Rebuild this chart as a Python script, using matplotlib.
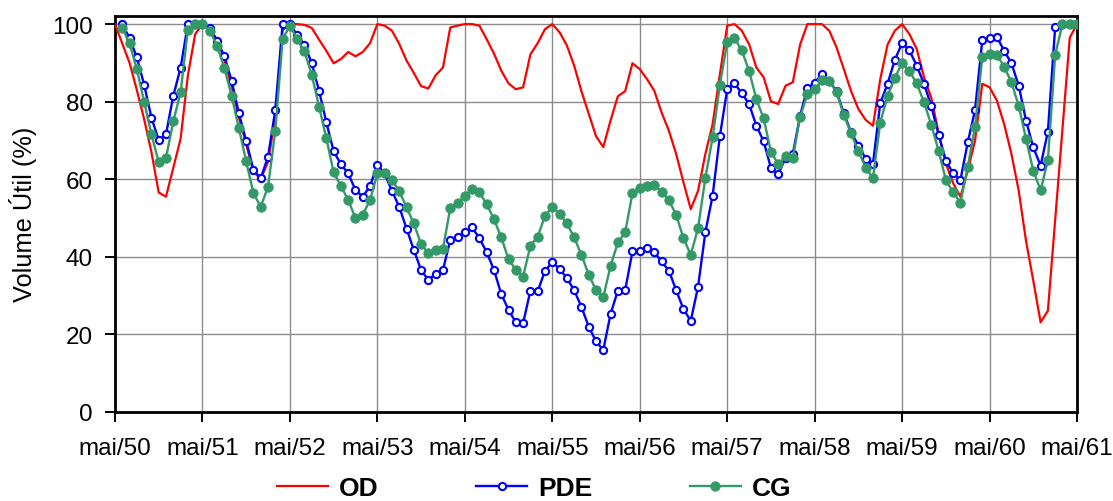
import numpy as np
import matplotlib
matplotlib.use('Agg')
import matplotlib.pyplot as plt
from matplotlib import font_manager

plt.rcParams.update({
    'font.family': ['Liberation Sans', 'DejaVu Sans'],
    'font.size': 17.5,
})

# legend uses a narrow bold face if one is installed
try:
    font_manager.findfont('Liberation Sans Narrow', fallback_to_default=False)
    legend_family = ['Liberation Sans Narrow', 'DejaVu Sans']
    col_space = 3.9
except ValueError:
    legend_family = ['Liberation Sans', 'DejaVu Sans']
    col_space = 3.7

# monthly values (% of useful volume), month 0 = mai/50
years = ['mai/50', 'mai/51', 'mai/52', 'mai/53', 'mai/54', 'mai/55',
         'mai/56', 'mai/57', 'mai/58', 'mai/59', 'mai/60', 'mai/61']

od = [100, 95, 90, 83, 75.5, 67, 56.6, 55.5, 63, 70.4, 86.7, 97.4,
      100, 99, 96, 91, 84, 76, 69, 62, 60, 64.5, 76, 98.5,
      100, 100, 99.8, 99, 96, 93.1, 89.9, 91, 92.8, 91.7, 92.8, 95.1,
      100, 99.6, 98.3, 94.9, 90.6, 87.4, 84, 83.4, 86.8, 88.8, 99.1, 99.6,
      100, 100, 99.6, 96.1, 92.4, 88, 84.7, 83.2, 83.7, 92.2, 95.1, 98.7,
      100, 97.9, 94.5, 89.3, 82.7, 76.9, 71.1, 68.3, 75.2, 81.4, 82.7, 89.9,
      88.4, 85.8, 82.8, 77.2, 72.5, 66.5, 59.2, 52.3, 57, 66.5, 74.2, 87.1,
      99.6, 100, 98.3, 94.8, 88.8, 86.3, 80.1, 79.4, 84.1, 85, 94.7, 100,
      100, 100, 98.3, 94, 88.4, 82.7, 78.1, 75.3, 73.8, 85.8, 94.7, 98.3,
      100, 97.4, 93.6, 86.3, 81, 72, 64, 59, 55.5, 62.2, 69.9, 84.6,
      83.7, 80.3, 74.2, 66.5, 57, 44.1, 33.8, 23.1, 26.1, 49.6, 73, 96.5,
      100]

pde = [100, 96.4, 91.4, 84.4, 75.9, 70.1, 71.6, 81.5, 88.7, 100, 100,
       100, 99, 95.7, 91.8, 85.4, 77, 69.9, 62.4, 60.3, 65.8, 77.9, 100,
       100, 97.2, 94.7, 89.9, 82.8, 74.7, 67.2, 63.9, 61.5, 57.2, 55.5, 58.3,
       63.7, 61.5, 57, 52.9, 47.3, 41.8, 36.6, 34, 35.7, 36.6, 44.3, 45.2,
       46.3, 47.6, 44.8, 41.2, 36.6, 30.4, 26.3, 23.1, 22.9, 31.3, 31.1, 36.4,
       38.6, 36.9, 34.5, 31.4, 27.1, 22, 18.2, 16, 25.3, 31.3, 31.4, 41.4,
       41.4, 42.3, 41.2, 38.8, 36.4, 31.4, 26.5, 23.5, 32.3, 46.3, 55.8, 71.2,
       83.2, 84.7, 82.2, 79.4, 73.8, 69.8, 62.9, 61.3, 65.5, 66.5, 76.4, 83.5,
       84.9, 87.1, 85.4, 82.7, 77, 72.1, 68.7, 65.3, 64, 79.6, 84.6, 90.8,
       95.1, 93.2, 89.3, 84.6, 78.9, 71.5, 64.8, 61.5, 59.8, 69.5, 77.8, 95.9,
       96.4, 96.7, 93.1, 89.9, 84.1, 75.1, 68.2, 63.5, 72.3, 99.3, 100, 100,
       100]

cg = [99, 95, 88.4, 80, 71.6, 64.4, 65.5, 74.9, 82.4, 98.5, 100,
      100, 98.3, 94.4, 88.8, 81.5, 73.2, 64.6, 56.4, 52.9, 58.1, 72.5, 96.1,
      99.6, 96.1, 93, 86.9, 78.7, 70.6, 61.8, 58.3, 54.6, 50, 50.9, 54.6,
      61.5, 61.7, 59.8, 57, 52.8, 48.6, 43.3, 40.9, 41.8, 42, 52.6, 53.8,
      55.8, 57.5, 56.6, 53.6, 49.7, 45, 39.4, 36.6, 34.9, 42.9, 45.2, 50.6,
      52.8, 51.1, 48.6, 45, 40.5, 35.4, 31.4, 29.6, 37.7, 43.7, 46.3, 56.4,
      57.7, 58.3, 58.5, 56.8, 54.6, 50.8, 44.8, 40.5, 47.4, 60.3, 70.8, 84.4,
      95.3, 96.4, 93.2, 88, 80.6, 75.7, 67.1, 63.9, 66, 65.4, 76.1, 81.9,
      83.2, 85.5, 85.4, 82.4, 76.6, 71.8, 67.2, 63, 60.3, 74.6, 81.5, 86.1,
      90, 87.8, 84.8, 79.9, 74, 67.4, 59.8, 56.6, 54, 63.1, 73.5, 91.4,
      92.2, 92.1, 89, 85, 78.9, 70.4, 62.2, 57.2, 64.9, 92.1, 100, 100,
      100]

x_od = np.arange(len(od))
x_sim = np.arange(1, len(pde) + 1)

fig = plt.figure(figsize=(11.13, 5.02), dpi=100)
ax = fig.add_axes([0.1033, 0.1773, 0.8644, 0.7897])

ax.plot(x_od, od, color='#FF0000', lw=1.6, label='OD', zorder=3)
ax.plot(x_sim, pde, color='#0000FF', lw=1.7, marker='o', ms=5.2,
        mfc='white', mec='#0000FF', mew=1.5, label='PDE', zorder=4)
ax.plot(x_sim, cg, color='#339966', lw=1.7, marker='o', ms=6.8,
        mfc='#339966', mec='#339966', mew=0.6, label='CG', zorder=5)

ax.set_xlim(0, 132)
ax.set_ylim(0, 102.2)
ax.set_xticks(np.arange(0, 133, 12))
ax.set_xticklabels(years)
ax.set_yticks([0, 20, 40, 60, 80, 100])
ax.grid(True, color='#8c8c8c', lw=1.0)
ax.set_axisbelow(True)
for s in ax.spines.values():
    s.set_linewidth(2.0)
    s.set_color('black')
ax.tick_params(axis='both', direction='out', length=7, width=1.4, pad=9)
ax.tick_params(axis='x', pad=11)
ax.set_ylabel('Volume Útil (%)', fontsize=18.3, labelpad=11)

fig.legend(loc='center left', bbox_to_anchor=(0.2485, 0.026), ncol=3,
           frameon=False, borderpad=0, borderaxespad=0,
           handlelength=1.95, handletextpad=0.4, columnspacing=col_space,
           prop={'family': legend_family, 'weight': 'bold', 'size': 19})

fig.savefig('out.png', dpi=100)
